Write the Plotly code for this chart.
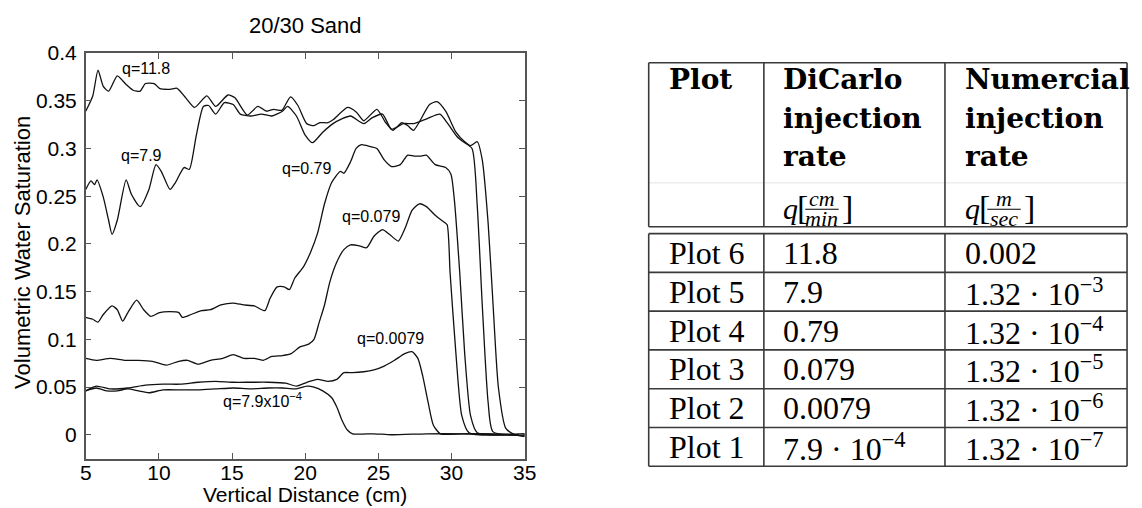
import plotly.graph_objects as go

# ---------------- data ----------------
x_q11_8 = [5.0, 5.48, 5.84, 6.2, 6.56, 7.16, 7.76, 8.24, 8.72, 9.08, 9.68, 10.04, 10.76, 11.24, 11.84,
           12.44, 13.28, 13.88, 14.72, 15.2, 16.04, 16.76, 17.36, 17.84, 18.4, 19.0, 19.5, 20.1, 20.6,
           21.0, 21.56, 21.9, 22.9, 23.5, 24.0, 24.9, 25.5, 26.0, 26.6, 27.0, 27.4, 28.5, 29.0, 29.6,
           30.3, 30.9, 31.3, 31.76, 32.1, 32.5, 32.84, 33.2, 33.7, 34.2, 35.0]
y_q11_8 = [0.339, 0.355, 0.382, 0.365, 0.360, 0.376, 0.367, 0.361, 0.360, 0.368, 0.368, 0.363, 0.362, 0.363, 0.353,
           0.343, 0.355, 0.344, 0.356, 0.353, 0.335, 0.344, 0.339, 0.341, 0.340, 0.354, 0.345, 0.326, 0.324,
           0.327, 0.327, 0.330, 0.343, 0.338, 0.329, 0.341, 0.327, 0.319, 0.327, 0.324, 0.319, 0.346, 0.349, 0.339,
           0.317, 0.307, 0.303, 0.307, 0.288, 0.222, 0.136, 0.050, 0.007, 0.001, -0.002]

x_q7_9 = [5.0, 5.36, 5.6, 5.77, 6.2, 6.56, 6.8, 7.16, 7.76, 8.12, 8.72, 9.32, 9.8, 10.16, 10.76, 11.12, 11.72,
          12.08, 12.56, 13.04, 13.4, 13.88, 14.48, 15.08, 15.56, 16.28, 17.0, 17.72, 18.44, 18.8, 19.4, 20.0,
          20.5, 21.2, 21.9, 22.5, 23.1, 24.0, 24.56, 25.28, 25.9, 26.7, 27.4, 28.3, 29.2, 29.7, 30.4, 30.8,
          31.4, 31.76, 32.1, 32.5, 32.84, 35.0]
y_q7_9 = [0.257, 0.266, 0.262, 0.267, 0.249, 0.225, 0.210, 0.225, 0.267, 0.252, 0.239, 0.257, 0.283, 0.276, 0.257,
          0.264, 0.280, 0.278, 0.314, 0.344, 0.345, 0.336, 0.348, 0.346, 0.336, 0.334, 0.336, 0.334, 0.339,
          0.344, 0.334, 0.314, 0.306, 0.317, 0.326, 0.331, 0.334, 0.326, 0.332, 0.336, 0.320, 0.326, 0.326,
          0.331, 0.336, 0.327, 0.312, 0.307, 0.300, 0.239, 0.136, 0.034, 0.003, 0.000]

x_q0_79 = [5.0, 5.48, 5.84, 6.2, 6.8, 7.16, 7.52, 7.88, 8.48, 8.96, 9.44, 10.04, 10.76, 11.36, 11.6, 12.2,
           12.92, 13.52, 14.24, 15.08, 15.8, 16.52, 17.24, 17.6, 18.08, 18.56, 18.92, 19.28, 19.88, 20.36,
           20.84, 21.32, 21.8, 22.4, 22.64, 23.1, 23.48, 23.84, 24.44, 24.9, 25.4, 25.9, 26.5, 27.0, 27.44,
           27.92, 28.28, 28.88, 29.6, 29.96, 30.2, 30.56, 30.9, 31.3, 31.76, 35.0]
y_q0_79 = [0.123, 0.121, 0.118, 0.126, 0.135, 0.131, 0.119, 0.128, 0.141, 0.131, 0.124, 0.128, 0.129, 0.128, 0.123,
           0.126, 0.130, 0.131, 0.136, 0.138, 0.136, 0.135, 0.130, 0.143, 0.155, 0.155, 0.152, 0.164, 0.176,
           0.191, 0.211, 0.242, 0.264, 0.276, 0.274, 0.286, 0.300, 0.304, 0.302, 0.300, 0.288, 0.281, 0.283,
           0.293, 0.292, 0.292, 0.293, 0.283, 0.280, 0.273, 0.245, 0.170, 0.085, 0.020, 0.002, 0.001]

x_q0_079 = [5.0, 5.72, 6.68, 7.64, 8.6, 9.56, 10.52, 11.36, 11.96, 12.68, 13.52, 14.36, 15.08, 15.8, 16.52,
            17.12, 17.72, 18.44, 19.04, 19.64, 20.24, 20.6, 20.96, 21.32, 21.68, 22.16, 22.64, 23.1, 23.7,
            24.2, 24.7, 25.28, 25.76, 26.36, 26.84, 27.3, 27.8, 28.28, 28.88, 29.48, 29.7, 29.9, 30.3, 30.7,
            31.2, 35.0]
y_q0_079 = [0.080, 0.078, 0.080, 0.078, 0.078, 0.077, 0.073, 0.077, 0.078, 0.074, 0.078, 0.080, 0.084, 0.080,
            0.080, 0.078, 0.082, 0.083, 0.085, 0.092, 0.095, 0.100, 0.118, 0.136, 0.160, 0.181, 0.194, 0.199,
            0.198, 0.196, 0.208, 0.215, 0.210, 0.203, 0.217, 0.235, 0.242, 0.239, 0.230, 0.223, 0.220, 0.170,
            0.085, 0.020, 0.002, 0.001]

x_q0_0079 = [5.0, 5.72, 6.68, 7.88, 9.08, 10.28, 11.48, 12.68, 13.88, 15.08, 16.28, 17.48, 18.68, 19.4, 20.12,
             20.84, 21.56, 22.16, 22.64, 23.24, 24.0, 24.7, 25.4, 26.1, 26.8, 27.3, 27.7, 28.04, 28.4, 28.76,
             29.24, 30.7, 33.1, 35.0]
y_q0_0079 = [0.046, 0.051, 0.048, 0.049, 0.052, 0.053, 0.053, 0.055, 0.056, 0.055, 0.055, 0.055, 0.054, 0.051,
             0.055, 0.058, 0.056, 0.058, 0.065, 0.065, 0.066, 0.068, 0.072, 0.078, 0.085, 0.087, 0.080, 0.061,
             0.034, 0.010, 0.001, 0.001, 0.001, 0.000]

x_q7_9e4 = [5.0, 5.72, 6.44, 7.16, 7.88, 8.6, 9.32, 10.28, 11.48, 12.68, 13.88, 15.08, 16.28, 17.48, 18.44,
            19.4, 20.12, 20.6, 21.2, 21.8, 22.16, 22.52, 22.88, 23.24, 24.7, 25.9, 28.3, 30.7, 33.1, 35.0]
y_q7_9e4 = [0.046, 0.049, 0.046, 0.046, 0.048, 0.046, 0.044, 0.047, 0.047, 0.047, 0.048, 0.049, 0.048, 0.049,
            0.049, 0.048, 0.051, 0.050, 0.046, 0.039, 0.029, 0.015, 0.005, 0.001, 0.001, 0.000, 0.001, 0.001,
            0.000, -0.001]

label_text = ["q=11.8", "q=7.9", "q=0.79", "q=0.079", "q=0.0079", "q=7.9x10<sup>−4</sup>"]
label_x = [9.1, 8.8, 20.1, 24.5, 25.8, 17.05]
label_y = [0.384, 0.293, 0.279, 0.229, 0.101, 0.036]

x_ticks = [5, 10, 15, 20, 25, 30, 35]
y_ticks = [0, 0.05, 0.1, 0.15, 0.2, 0.25, 0.3, 0.35, 0.4]

table_plot = ["Plot 6", "Plot 5", "Plot 4", "Plot 3", "Plot 2", "Plot 1"]
table_dicarlo = ["11.8", "7.9", "0.79", "0.079", "0.0079", "7.9 · 10<sup>−4</sup>"]
table_numerical = ["0.002", "1.32 · 10<sup>−3</sup>", "1.32 · 10<sup>−4</sup>", "1.32 · 10<sup>−5</sup>",
                   "1.32 · 10<sup>−6</sup>", "1.32 · 10<sup>−7</sup>"]
header_lines = [["Plot"], ["DiCarlo", "injection", "rate"], ["Numercial", "injection", "rate"]]

# ---------------- layout helpers ----------------
W, H = 1142, 508
def px(x):
    return x / W
def py(y):
    return 1 - y / H

SANS = "Liberation Sans, Arial, sans-serif"
SERIF = "Liberation Serif, Times New Roman, serif"
SERIF_B = "DejaVu Serif, serif"

fig = go.Figure()
series = [(x_q11_8, y_q11_8), (x_q7_9, y_q7_9), (x_q0_79, y_q0_79),
          (x_q0_079, y_q0_079), (x_q0_0079, y_q0_0079), (x_q7_9e4, y_q7_9e4)]
for xs, ys in series:
    fig.add_trace(go.Scatter(x=xs, y=ys, mode="lines",
                             line=dict(color="#111111", width=1.3, shape="spline", smoothing=0.6),
                             showlegend=False, hoverinfo="skip"))

ann = []
for t, lx, ly in zip(label_text, label_x, label_y):
    ann.append(dict(x=lx, y=ly, xref="x", yref="y", text=t, showarrow=False,
                    font=dict(family=SANS, size=16, color="black")))

# title and axis titles
ann.append(dict(x=px(304), y=py(14), xref="paper", yref="paper", text="20/30 Sand", showarrow=False,
                font=dict(family=SANS, size=22, color="black"), xanchor="center", yanchor="middle"))
ann.append(dict(x=px(304), y=py(494), xref="paper", yref="paper", text="Vertical Distance (cm)",
                showarrow=False, font=dict(family=SANS, size=21, color="black"),
                xanchor="center", yanchor="middle"))
ann.append(dict(x=px(16), y=py(246), xref="paper", yref="paper", text="Volumetric Water Saturation",
                showarrow=False, textangle=-90, font=dict(family=SANS, size=22, color="black"),
                xanchor="center", yanchor="middle"))

# ---------------- table ----------------
shapes = []
LC = "#3a3a3a"
TL, TR = 653, 1139
C1, C2 = 770, 954
HT, HB = 52, 220
BT = 227
ROW_H = 39.7
nrows = len(table_plot)
BB = BT + ROW_H * nrows

def hline(y, x0=TL, x1=TR, color=LC, width=1.6):
    shapes.append(dict(type="line", xref="paper", yref="paper", x0=px(x0), x1=px(x1),
                       y0=py(y), y1=py(y), line=dict(color=color, width=width)))
def vline(x, y0, y1, color=LC, width=1.6):
    shapes.append(dict(type="line", xref="paper", yref="paper", x0=px(x), x1=px(x),
                       y0=py(y0), y1=py(y1), line=dict(color=color, width=width)))

# header box
hline(HT); hline(HB)
hline(175, color="#e4e4e4", width=1)
for xx in (TL, C1, C2, TR):
    vline(xx, HT, HB)
# body box
hline(BT); hline(BB)
for i in range(1, nrows):
    hline(BT + ROW_H * i)
for xx in (TL, C1, C2, TR):
    vline(xx, BT, BB)

col_x = [672, 787, 972]
header_y = [69, 109, 148]
for ci, lines in enumerate(header_lines):
    for li, t in enumerate(lines):
        ann.append(dict(x=px(col_x[ci]), y=py(header_y[li]), xref="paper", yref="paper",
                        text="<b>" + t + "</b>", showarrow=False, xanchor="left", yanchor="middle",
                        font=dict(family=SERIF_B, size=28, color="black")))

# unit lines  q[ num / den ]
units = [(787, "cm", "min"), (972, "m", "sec")]
for ux, num, den in units:
    ann.append(dict(x=px(ux), y=py(201), xref="paper", yref="paper", text="<i>q</i>", showarrow=False,
                    xanchor="left", yanchor="middle", font=dict(family=SERIF, size=30, color="black")))
    ann.append(dict(x=px(ux + 15), y=py(200), xref="paper", yref="paper", text="[", showarrow=False,
                    xanchor="left", yanchor="middle", font=dict(family=SERIF, size=34, color="black")))
    fw = 34 if len(den) == 3 else 30
    fx0 = ux + 25
    fc = fx0 + fw / 2
    ann.append(dict(x=px(fc), y=py(191), xref="paper", yref="paper", text="<i>" + num + "</i>",
                    showarrow=False, xanchor="center", yanchor="middle",
                    font=dict(family=SERIF, size=22, color="black")))
    ann.append(dict(x=px(fc), y=py(212), xref="paper", yref="paper", text="<i>" + den + "</i>",
                    showarrow=False, xanchor="center", yanchor="middle",
                    font=dict(family=SERIF, size=22, color="black")))
    shapes.append(dict(type="line", xref="paper", yref="paper", x0=px(fx0), x1=px(fx0 + fw),
                       y0=py(202), y1=py(202), line=dict(color="black", width=1.1)))
    ann.append(dict(x=px(fx0 + fw + 1), y=py(200), xref="paper", yref="paper", text="]", showarrow=False,
                    xanchor="left", yanchor="middle", font=dict(family=SERIF, size=34, color="black")))

for ri in range(nrows):
    yc = BT + ROW_H * (ri + 0.5)
    for ci, vals in enumerate([table_plot, table_dicarlo, table_numerical]):
        ann.append(dict(x=px(col_x[ci]), y=py(yc), xref="paper", yref="paper", text=vals[ri],
                        showarrow=False, xanchor="left", yanchor="middle",
                        font=dict(family=SERIF, size=32, color="black")))

AX = "#555555"
fig.update_layout(
    width=W, height=H, margin=dict(l=0, r=0, t=0, b=0),
    paper_bgcolor="white", plot_bgcolor="white",
    font=dict(family=SANS, color="black"),
    annotations=ann, shapes=shapes,
    xaxis=dict(domain=[px(81), px(527)], range=[5, 35], tickvals=x_ticks, ticks="inside", ticklen=6,
               tickcolor=AX, showline=True, linecolor=AX, linewidth=1.5, mirror="ticks",
               showgrid=False, zeroline=False, tickfont=dict(family=SANS, size=21, color="black"),
               ticklabelstandoff=-6),
    yaxis=dict(domain=[py(458), py(42)], range=[-0.0256, 0.4], tickvals=y_ticks, ticks="inside", ticklen=6,
               tickcolor=AX, showline=True, linecolor=AX, linewidth=1.5, mirror="ticks",
               showgrid=False, zeroline=False, tickfont=dict(family=SANS, size=21, color="black"),
               ticklabelstandoff=3),
)

fig.write_html("out.html")
